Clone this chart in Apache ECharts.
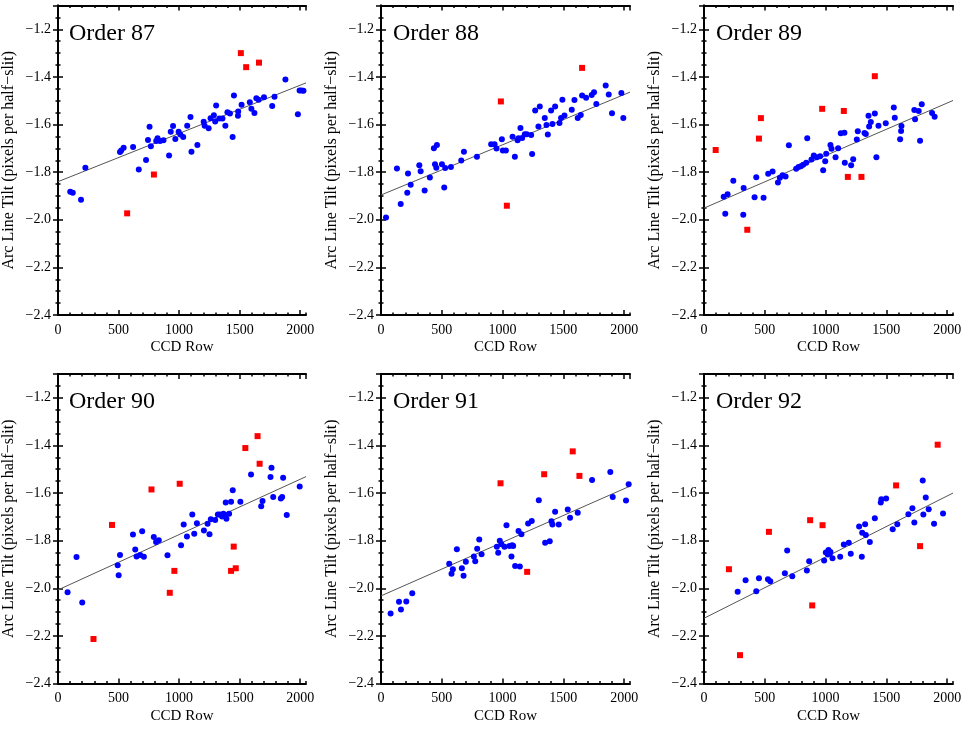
<!DOCTYPE html>
<html>
<head>
<meta charset="utf-8">
<title>Arc line tilt per order</title>
<script src="https://cdn.jsdelivr.net/npm/echarts@6/dist/echarts.min.js"></script>
<style>
  html, body { margin: 0; padding: 0; background: #fff; }
  #chart { width: 969px; height: 736px; }
</style>
</head>
<body>
<div id="chart"></div>
<script>
// panel titles
const orderNames = ["Order 87", "Order 88", "Order 89", "Order 90", "Order 91", "Order 92"];

// x / y tick definitions
const xMajorTicks = [0, 500, 1000, 1500, 2000];
const yMajorTicks = [-2.4, -2.2, -2.0, -1.8, -1.6, -1.4, -1.2];

// kept lines (blue) [CCD row, tilt]
const keep87 = [[101,-1.882],[122,-1.887],[190,-1.916],[226,-1.781],[512,-1.715],[522,-1.709],[542,-1.697],[620,-1.694],
  [667,-1.789],[727,-1.749],[743,-1.665],[756,-1.609],[767,-1.691],[811,-1.669],[822,-1.658],[843,-1.669],[871,-1.666],
  [917,-1.730],[931,-1.630],[950,-1.606],[969,-1.661],[996,-1.630],[1010,-1.642],[1034,-1.652],[1067,-1.605],[1094,-1.568],
  [1102,-1.714],[1151,-1.686],[1203,-1.588],[1211,-1.605],[1244,-1.616],[1260,-1.574],[1287,-1.561],[1298,-1.587],
  [1306,-1.520],[1333,-1.575],[1358,-1.575],[1382,-1.605],[1399,-1.548],[1420,-1.554],[1442,-1.652],[1453,-1.478],
  [1488,-1.545],[1486,-1.563],[1516,-1.517],[1584,-1.506],[1597,-1.534],[1622,-1.552],[1638,-1.490],[1657,-1.496],
  [1701,-1.485],[1769,-1.522],[1788,-1.483],[1878,-1.411],[1981,-1.557],[1995,-1.457],[2011,-1.457],[2027,-1.458]];
const keep88 = [[41,-1.990],[131,-1.785],[162,-1.934],[216,-1.887],[222,-1.806],[244,-1.853],[315,-1.771],[326,-1.796],
  [359,-1.877],[402,-1.822],[435,-1.700],[444,-1.767],[455,-1.781],[460,-1.686],[501,-1.767],[528,-1.783],[520,-1.864],
  [575,-1.778],[660,-1.751],[682,-1.714],[789,-1.735],[906,-1.683],[934,-1.683],[950,-1.701],[994,-1.662],[1002,-1.709],
  [1027,-1.709],[1082,-1.651],[1101,-1.735],[1123,-1.666],[1131,-1.658],[1147,-1.615],[1161,-1.657],[1183,-1.641],
  [1199,-1.641],[1235,-1.644],[1243,-1.724],[1268,-1.541],[1295,-1.608],[1306,-1.524],[1347,-1.573],[1361,-1.602],
  [1372,-1.642],[1399,-1.541],[1410,-1.598],[1432,-1.524],[1468,-1.594],[1481,-1.573],[1492,-1.496],[1509,-1.562],
  [1569,-1.538],[1591,-1.497],[1618,-1.573],[1643,-1.560],[1654,-1.478],[1687,-1.488],[1733,-1.476],[1752,-1.464],
  [1771,-1.514],[1848,-1.436],[1873,-1.474],[1900,-1.553],[1977,-1.468],[1993,-1.573]];
const keep89 = [[162,-1.903],[175,-1.975],[194,-1.893],[241,-1.836],[323,-1.979],[326,-1.867],[416,-1.905],[430,-1.821],
  [490,-1.908],[528,-1.807],[564,-1.797],[608,-1.843],[624,-1.824],[646,-1.813],[671,-1.818],[698,-1.687],[758,-1.786],
  [778,-1.778],[797,-1.775],[816,-1.769],[841,-1.761],[849,-1.658],[884,-1.747],[903,-1.730],[928,-1.737],[955,-1.733],
  [980,-1.792],[997,-1.754],[1005,-1.723],[1040,-1.686],[1049,-1.702],[1082,-1.737],[1103,-1.700],[1125,-1.637],
  [1155,-1.634],[1158,-1.761],[1210,-1.771],[1227,-1.746],[1257,-1.663],[1265,-1.628],[1320,-1.636],[1331,-1.640],
  [1353,-1.563],[1358,-1.608],[1372,-1.589],[1405,-1.554],[1418,-1.737],[1435,-1.605],[1495,-1.595],[1561,-1.528],
  [1569,-1.571],[1613,-1.662],[1624,-1.606],[1621,-1.627],[1730,-1.539],[1736,-1.578],[1766,-1.543],[1777,-1.668],
  [1791,-1.515],[1876,-1.552],[1897,-1.567]];
const keep90 = [[79,-2.017],[153,-1.869],[200,-2.060],[493,-1.903],[501,-1.945],[512,-1.860],[619,-1.774],[638,-1.837],
  [649,-1.867],[679,-1.860],[695,-1.760],[709,-1.868],[791,-1.785],[810,-1.806],[832,-1.798],[904,-1.861],[1016,-1.819],
  [1038,-1.732],[1065,-1.783],[1109,-1.690],[1125,-1.771],[1147,-1.727],[1205,-1.757],[1235,-1.729],[1251,-1.773],
  [1262,-1.710],[1298,-1.713],[1320,-1.690],[1336,-1.690],[1355,-1.699],[1366,-1.687],[1380,-1.692],[1385,-1.640],
  [1391,-1.708],[1413,-1.687],[1429,-1.637],[1443,-1.588],[1506,-1.637],[1594,-1.522],[1678,-1.655],[1689,-1.633],
  [1755,-1.533],[1763,-1.494],[1777,-1.617],[1840,-1.623],[1851,-1.617],[1859,-1.536],[1889,-1.692],[1996,-1.573]];
const keep91 = [[79,-2.106],[148,-2.057],[164,-2.089],[208,-2.056],[257,-2.021],[561,-1.897],[580,-1.939],[591,-1.920],
  [624,-1.836],[665,-1.916],[679,-1.947],[698,-1.889],[764,-1.867],[775,-1.886],[791,-1.834],[808,-1.795],[827,-1.857],
  [953,-1.826],[964,-1.851],[977,-1.800],[991,-1.815],[1016,-1.826],[1032,-1.735],[1057,-1.822],[1073,-1.867],
  [1079,-1.819],[1087,-1.822],[1103,-1.906],[1131,-1.759],[1142,-1.909],[1155,-1.773],[1210,-1.728],[1240,-1.717],
  [1298,-1.630],[1350,-1.809],[1388,-1.802],[1402,-1.718],[1410,-1.732],[1432,-1.679],[1462,-1.732],[1536,-1.669],
  [1555,-1.704],[1618,-1.683],[1736,-1.545],[1886,-1.512],[1906,-1.617],[2015,-1.631],[2037,-1.563]];
const keep92 = [[277,-2.015],[342,-1.966],[430,-2.012],[452,-1.958],[526,-1.962],[545,-1.970],[665,-1.937],[684,-1.841],
  [726,-1.949],[846,-1.925],[865,-1.886],[988,-1.883],[1002,-1.850],[1019,-1.858],[1024,-1.839],[1035,-1.854],
  [1040,-1.848],[1057,-1.874],[1120,-1.868],[1150,-1.816],[1191,-1.809],[1207,-1.855],[1276,-1.741],[1298,-1.868],
  [1301,-1.767],[1325,-1.731],[1331,-1.776],[1364,-1.806],[1405,-1.706],[1454,-1.640],[1459,-1.626],[1498,-1.623],
  [1552,-1.752],[1590,-1.731],[1681,-1.689],[1714,-1.664],[1730,-1.724],[1799,-1.547],[1804,-1.690],[1824,-1.619],
  [1848,-1.668],[1892,-1.729],[1966,-1.686]];

// rejected lines (red squares)
const reject87 = [[1510,-1.300],[1554,-1.359],[1660,-1.340],[792,-1.810],[571,-1.973]];
const reject88 = [[986,-1.503],[1654,-1.362],[1035,-1.941]];
const reject89 = [[96,-1.707],[356,-2.042],[452,-1.659],[468,-1.573],[972,-1.534],[1150,-1.543],[1183,-1.820],
  [1295,-1.820],[1405,-1.397]];
const reject90 = [[293,-2.213],[446,-1.734],[772,-1.585],[923,-2.019],[961,-1.927],[1005,-1.561],[1429,-1.927],
  [1451,-1.825],[1468,-1.916],[1547,-1.411],[1648,-1.361],[1665,-1.477]];
const reject91 = [[983,-1.559],[1342,-1.521],[1577,-1.425],[1632,-1.528],[1202,-1.931]];
const reject92 = [[205,-1.920],[296,-2.281],[534,-1.763],[873,-1.714],[890,-2.072],[975,-1.735],[1580,-1.568],
  [1777,-1.823],[1922,-1.397]];

// linear fit, [row, tilt] at both ends of the detector
const fit87 = [[0,-1.840],[2048,-1.425]];
const fit88 = [[0,-1.896],[2048,-1.464]];
const fit89 = [[0,-1.951],[2048,-1.499]];
const fit90 = [[0,-2.007],[2048,-1.531]];
const fit91 = [[0,-2.032],[2048,-1.571]];
const fit92 = [[0,-2.126],[2048,-1.600]];

const keepList = [keep87, keep88, keep89, keep90, keep91, keep92];
const rejectList = [reject87, reject88, reject89, reject90, reject91, reject92];
const fitList = [fit87, fit88, fit89, fit90, fit91, fit92];

const FONT = "'Liberation Serif', 'DejaVu Serif', serif";
const colLeft = [57, 381, 704];
const rowTop = [5.5, 374];
const plotW = 249, plotH = 309.5;

const grids = [], xAxes = [], yAxes = [], titles = [], series = [];

orderNames.forEach((name, i) => {
  const col = i % 3, row = Math.floor(i / 3);
  grids.push({ left: colLeft[col], top: rowTop[row], width: plotW, height: plotH, containLabel: false });
  titles.push({
    text: name, left: colLeft[col] + 12, top: rowTop[row] + 16, padding: 0,
    textStyle: { fontFamily: FONT, fontSize: 24, fontWeight: "normal", color: "#000" }
  });

  const base = xAxes.length;
  const line = { show: true, lineStyle: { color: "#000", width: 2 } };
  const majorTick = { show: true, inside: true, length: 5, lineStyle: { color: "#000", width: 1.5 } };
  const minorTick = { show: true, inside: true, length: 2.5, lineStyle: { color: "#000", width: 1.5 } };
  ["bottom", "top"].forEach((pos) => {
    xAxes.push({
      type: "value", gridIndex: i, position: pos, min: 0, max: 2048, interval: 500,
      axisLine: line, axisTick: majorTick, splitLine: { show: false },
      axisLabel: pos === "bottom" ? {
        show: true, margin: 8, fontFamily: FONT, fontSize: 14, color: "#000", showMaxLabel: false,
        formatter: (v) => (xMajorTicks.indexOf(v) >= 0 ? String(v) : "")
      } : { show: false },
      name: pos === "bottom" ? "CCD Row" : "", nameLocation: "middle", nameGap: 25,
      nameTextStyle: { fontFamily: FONT, fontSize: 15, color: "#000" }
    });
    xAxes.push({
      type: "value", gridIndex: i, position: pos, min: 0, max: 2048, interval: 100,
      axisLine: { show: false }, axisTick: minorTick, axisLabel: { show: false }, splitLine: { show: false }
    });
  });
  ["left", "right"].forEach((pos) => {
    yAxes.push({
      type: "value", gridIndex: i, position: pos, min: -2.4, max: -1.1, interval: 0.2,
      axisLine: line, axisTick: majorTick, splitLine: { show: false },
      axisLabel: pos === "left" ? {
        show: true, margin: 7, fontFamily: FONT, fontSize: 14, color: "#000", showMaxLabel: false,
        formatter: (v) => {
          const hit = yMajorTicks.find((t) => Math.abs(t - v) < 1e-6);
          return hit === undefined ? "" : "\u2212" + Math.abs(hit).toFixed(1);
        }
      } : { show: false },
      name: pos === "left" ? "Arc Line Tilt (pixels per half\u2212slit)" : "",
      nameLocation: "middle", nameGap: 41,
      nameTextStyle: { fontFamily: FONT, fontSize: 16, color: "#000" }
    });
    yAxes.push({
      type: "value", gridIndex: i, position: pos, min: -2.4, max: -1.1, interval: 0.05,
      axisLine: { show: false }, axisTick: minorTick, axisLabel: { show: false }, splitLine: { show: false }
    });
  });

  const xi = base, yi = base; // bottom-major x and left-major y share the same index
  series.push({
    type: "line", xAxisIndex: xi, yAxisIndex: yi, data: fitList[i], showSymbol: false, silent: true,
    lineStyle: { color: "#555", width: 1 }, z: 1
  });
  series.push({
    type: "scatter", xAxisIndex: xi, yAxisIndex: yi, data: keepList[i], symbol: "circle", symbolSize: 6,
    itemStyle: { color: "#0000ff", opacity: 1 }, z: 3
  });
  series.push({
    type: "scatter", xAxisIndex: xi, yAxisIndex: yi, data: rejectList[i], symbol: "rect", symbolSize: 6,
    itemStyle: { color: "#ff0000", opacity: 1 }, z: 4
  });
});

const chart = echarts.init(document.getElementById("chart"));
chart.setOption({
  animation: false,
  backgroundColor: "#fff",
  title: titles,
  grid: grids,
  xAxis: xAxes,
  yAxis: yAxes,
  series: series
});
</script>
</body>
</html>
